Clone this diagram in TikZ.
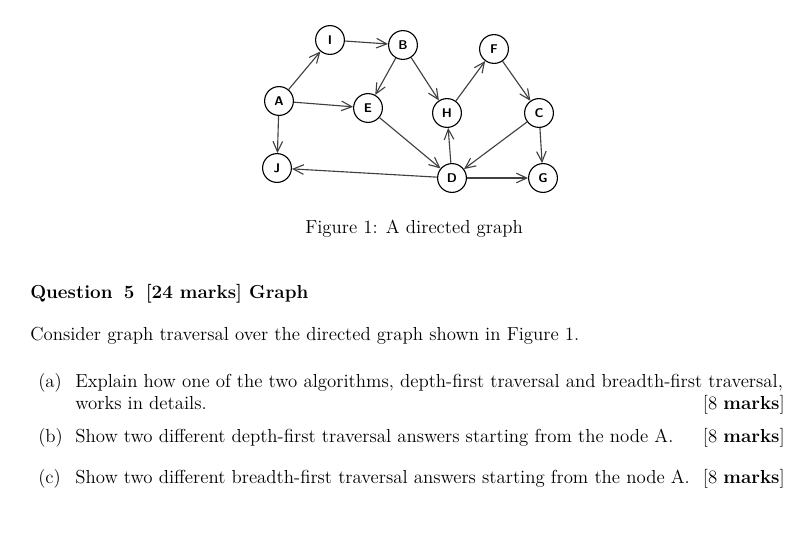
\documentclass[tikz,border=0pt]{standalone}
\usetikzlibrary{arrows.meta}
\tikzset{
	vert/.style={circle, draw, thick, minimum size=0.72cm, inner sep=0pt, font=\sffamily\bfseries\small},
	txt/.style={anchor=base west, inner sep=0pt, font=\fontsize{13.4}{16}\selectfont},
	arc/.style={-{Straight Barb[length=2.6mm,width=2.4mm]}, thick, black!75}
}
\begin{document}
\begin{tikzpicture}[x=0.025cm, y=-0.025cm]
	\useasboundingbox (0,0) rectangle (806,542);

	\node[vert] (A) at (279,101) {A};
	\node[vert] (I) at (330,40) {I};
	\node[vert] (B) at (403,45) {B};
	\node[vert] (F) at (494,49) {F};
	\node[vert] (E) at (368,108) {E};
	\node[vert] (H) at (447,113) {H};
	\node[vert] (C) at (539,113) {C};
	\node[vert] (J) at (277,168) {J};
	\node[vert] (D) at (452,178) {D};
	\node[vert] (G) at (543,178) {G};

	\foreach \i / \j in {
	A/I, I/B, A/E, A/J,
	B/E, B/H, H/F, F/C,
	C/G, C/D, E/D, D/H,
	D/G, D/J}
	{
		\draw[arc] (\i) -- (\j);
	};

	\node[txt] (cap) at (305,233) {Figure 1: A directed graph};
	\node[txt] (q) at (30,298) {\bfseries Question\hspace{0.6em}5\hspace{0.6em}[24 marks] Graph};
	\node[txt] (intro) at (30,340) {Consider graph traversal over the directed graph shown in Figure 1.};
	\node[txt] (la) at (38,387) {(a)};
	\node[txt] (ta) at (75,387) {Explain how one of the two algorithms, depth-first traversal and breadth-first traversal,};
	\node[txt] (ta2) at (75,409) {works in details.};
	\node[txt, anchor=base east] (ma) at (785,409) {[8 \textbf{marks}]};
	\node[txt] (lb) at (38,442) {(b)};
	\node[txt] (tb) at (75,442) {Show two different depth-first traversal answers starting from the node A.};
	\node[txt, anchor=base east] (mb) at (785,442) {[8 \textbf{marks}]};
	\node[txt] (lc) at (38,483) {(c)};
	\node[txt] (tc) at (75,483) {Show two different breadth-first traversal answers starting from the node A.};
	\node[txt, anchor=base east] (mc) at (785,483) {[8 \textbf{marks}]};
\end{tikzpicture}
\end{document}
